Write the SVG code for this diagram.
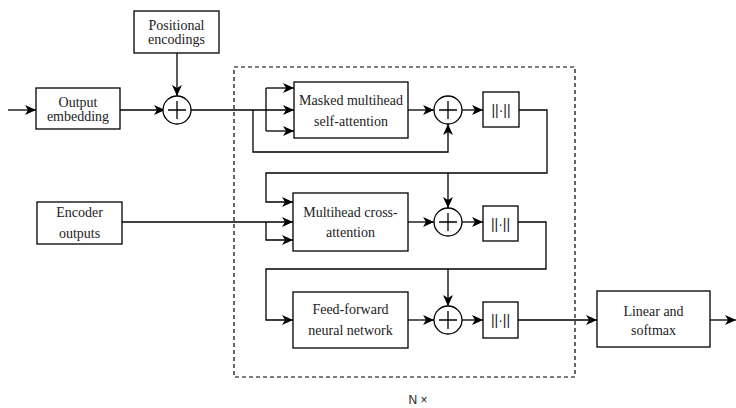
<svg xmlns="http://www.w3.org/2000/svg" width="736" height="408" viewBox="0 0 736 408">
<style>
.box{fill:#fff;stroke:#000;stroke-width:1.3}
.t{font-family:"Liberation Serif","Times New Roman",serif;font-size:14px;text-anchor:middle;fill:#222}
.n{font-family:"Liberation Sans",Arial,sans-serif;font-size:14px;text-anchor:middle;fill:#222}
.c{fill:none;stroke:#000;stroke-width:1.3}
.a{marker-end:url(#arr)}
.dash{fill:none;stroke:#000;stroke-width:1.2;stroke-dasharray:4 3}
</style>
<defs>
<marker id="arr" markerWidth="12" markerHeight="10" refX="11" refY="5" orient="auto" markerUnits="userSpaceOnUse">
<path d="M0,0 L11,5 L0,10 L3,5 z" fill="#000"/>
</marker>
</defs>
<rect class="dash" x="234" y="67" width="341" height="310"/>
<g id="connectors">
<path class="c a" d="M8,110 H36"/>
<path class="c a" d="M120,110 H165"/>
<path class="c a" d="M177,53 V96"/>
<path class="c a" d="M191,110 H294"/>
<path class="c" d="M266,88 V131"/>
<path class="c a" d="M266,88 H294"/>
<path class="c a" d="M266,131 H294"/>
<path class="c a" d="M253,110 V152 H448 V124"/>
<path class="c a" d="M408,110 H434"/>
<path class="c a" d="M462,110 H483"/>
<path class="c a" d="M519,110 H547 V173 H266 V202 H293"/>
<path class="c a" d="M448,173 V208"/>
<path class="c a" d="M122,222 H293"/>
<path class="c a" d="M266,222 V240 H293"/>
<path class="c a" d="M408,222 H434"/>
<path class="c a" d="M462,222 H483"/>
<path class="c a" d="M518,222 H546 V269 H266 V320 H293"/>
<path class="c a" d="M448,269 V306"/>
<path class="c a" d="M408,320 H434"/>
<path class="c a" d="M462,320 H483"/>
<path class="c a" d="M518,320 H597"/>
<path class="c a" d="M710,320 H736"/>
</g>
<g id="output-embedding">
<rect class="box" x="36" y="88" width="84" height="41"/>
<text class="t" x="78" y="107">Output</text>
<text class="t" x="78" y="121">embedding</text>
</g>
<g id="positional-encodings">
<rect class="box" x="134" y="11" width="85" height="42"/>
<text class="t" x="176.5" y="30">Positional</text>
<text class="t" x="176.5" y="44">encodings</text>
</g>
<g id="add0">
<circle class="box" cx="177" cy="110" r="14"/>
<path class="c" d="M168,110 H186 M177,101 V119"/>
</g>
<g id="encoder-outputs">
<rect class="box" x="37" y="202" width="85" height="42"/>
<text class="t" x="79.5" y="217">Encoder</text>
<text class="t" x="79.5" y="238">outputs</text>
</g>
<g id="masked-attention">
<rect class="box" x="294" y="82" width="114" height="56"/>
<text class="t" x="351" y="105">Masked multihead</text>
<text class="t" x="351" y="126">self-attention</text>
</g>
<g id="add1">
<circle class="box" cx="448" cy="110" r="14"/>
<path class="c" d="M439,110 H457 M448,101 V119"/>
</g>
<g id="norm1">
<rect class="box" x="483" y="92" width="36" height="35"/>
<text class="n" x="501" y="115">||·||</text>
</g>
<g id="cross-attention">
<rect class="box" x="293" y="193" width="115" height="58"/>
<text class="t" x="350.5" y="217">Multihead cross-</text>
<text class="t" x="350.5" y="237">attention</text>
</g>
<g id="add2">
<circle class="box" cx="448" cy="222" r="14"/>
<path class="c" d="M439,222 H457 M448,213 V231"/>
</g>
<g id="norm2">
<rect class="box" x="483" y="206" width="35" height="35"/>
<text class="n" x="500.5" y="228.5">||·||</text>
</g>
<g id="feed-forward">
<rect class="box" x="293" y="292" width="115" height="56"/>
<text class="t" x="350.5" y="314">Feed-forward</text>
<text class="t" x="350.5" y="335">neural network</text>
</g>
<g id="add3">
<circle class="box" cx="448" cy="320" r="14"/>
<path class="c" d="M439,320 H457 M448,311 V329"/>
</g>
<g id="norm3">
<rect class="box" x="483" y="302" width="35" height="36"/>
<text class="n" x="500.5" y="325">||·||</text>
</g>
<g id="linear-softmax">
<rect class="box" x="597" y="291" width="113" height="56"/>
<text class="t" x="653.5" y="315.5">Linear and</text>
<text class="t" x="653.5" y="335">softmax</text>
</g>
<g id="label-n">
<text x="418" y="404" style="font-family:'Liberation Sans',Arial,sans-serif;font-size:12px;text-anchor:middle;fill:#222">N ×</text>
</g>
</svg>
